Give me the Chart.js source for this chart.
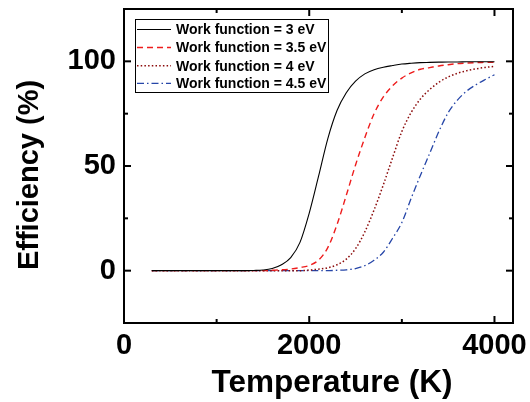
<!DOCTYPE html>
<html>
<head>
<meta charset="utf-8">
<script src="https://cdn.jsdelivr.net/npm/chart.js@4/dist/chart.umd.min.js"></script>
<style>
  html, body { margin: 0; padding: 0; background: #fff; }
  #wrap { width: 530px; height: 402px; position: relative; }
</style>
</head>
<body>
<div id="wrap"><canvas id="c" width="530" height="402"></canvas></div>
<script>
// ---- Data ----
const temperatures = [300, 400, 500, 600, 700, 800, 900, 1000, 1100, 1200, 1300, 1400, 1500, 1600, 1700, 1800, 1900, 2000, 2100, 2200, 2300, 2400, 2500, 2600, 2700, 2800, 2900, 3000, 3100, 3200, 3300, 3400, 3500, 3600, 3700, 3800, 3900, 4000];
const eff3eV   = [0, 0, 0, 0, 0, 0, 0, 0, 0, 0, 0, 0.1, 0.3, 1.0, 2.8, 6.2, 13.5, 27.5, 45, 63, 76.5, 85, 90.5, 94, 96, 97.2, 98, 98.7, 99.1, 99.4, 99.5, 99.6, 99.7, 99.7, 99.8, 99.8, 99.8, 99.8];
const eff35eV  = [0, 0, 0, 0, 0, 0, 0, 0, 0, 0, 0, 0, 0, 0.2, 0.4, 0.8, 1.5, 2.5, 5, 11, 22, 36, 50.5, 63.5, 75, 83, 88.3, 92, 94.5, 96.2, 97, 97.8, 98.4, 98.9, 99.2, 99.4, 99.5, 99.6];
const eff4eV   = [0, 0, 0, 0, 0, 0, 0, 0, 0, 0, 0, 0, 0, 0, 0, 0, 0, 0.3, 0.7, 1.4, 2.8, 5.5, 10.5, 18.5, 29, 41, 54, 66.5, 75.5, 82, 86.5, 90, 92.5, 94.3, 95.5, 96.4, 97.1, 97.6];
const eff45eV  = [0, 0, 0, 0, 0, 0, 0, 0, 0, 0, 0, 0, 0, 0, 0, 0, 0, 0, 0, 0, 0.2, 0.4, 1.0, 2.4, 5, 8.8, 15.5, 23, 34.5, 45.5, 56, 66.5, 75.5, 81.5, 85.8, 88.8, 91.3, 93.6];
const seriesLabels = ["Work function = 3 eV", "Work function = 3.5 eV", "Work function = 4 eV", "Work function = 4.5 eV"];
const xMajorTicks = [0, 2000, 4000];
const xMinorTicks = [1000, 3000];
const yMajorTicks = [0, 50, 100];
const yMinorTicks = [25, 75];
const xRange = [0, 4200];
const yRange = [-25, 125];
const xTitle = "Temperature (K)";
const yTitle = "Efficiency (%)";

// ---- Styles ----
const styles = [
  { color: "#000000", width: 1.1, dash: [] },
  { color: "#ee1c1c", width: 1.4, dash: [6, 4] },
  { color: "#8b0a0a", width: 1.5, dash: [1.5, 2.2] },
  { color: "#2646a8", width: 1.3, dash: [7, 3, 1.5, 3] }
];
const allSeries = [eff3eV, eff35eV, eff4eV, eff45eV];
const FONT = "'Liberation Sans', Arial, Helvetica, sans-serif";

const datasets = allSeries.map((vals, i) => ({
  label: seriesLabels[i],
  data: temperatures.map((t, k) => ({ x: t, y: vals[k] })),
  borderColor: styles[i].color,
  borderWidth: styles[i].width,
  borderDash: styles[i].dash,
  pointRadius: 0,
  fill: false,
  cubicInterpolationMode: 'monotone'
}));

const framePlugin = {
  id: 'frame',
  afterDraw(chart) {
    const { ctx, chartArea: a, scales } = chart;
    const xs = scales.x, ys = scales.y;
    ctx.save();
    ctx.strokeStyle = '#000';
    ctx.lineWidth = 2;
    ctx.strokeRect(a.left, a.top, a.right - a.left, a.bottom - a.top);
    const tick = (x1, y1, x2, y2) => { ctx.beginPath(); ctx.moveTo(x1, y1); ctx.lineTo(x2, y2); ctx.stroke(); };
    xMajorTicks.forEach(v => { const p = xs.getPixelForValue(v); tick(p, a.bottom, p, a.bottom - 7); tick(p, a.top, p, a.top + 7); });
    xMinorTicks.forEach(v => { const p = xs.getPixelForValue(v); tick(p, a.bottom, p, a.bottom - 4); tick(p, a.top, p, a.top + 4); });
    yMajorTicks.forEach(v => { const p = ys.getPixelForValue(v); tick(a.left, p, a.left + 7, p); tick(a.right, p, a.right - 7, p); });
    yMinorTicks.forEach(v => { const p = ys.getPixelForValue(v); tick(a.left, p, a.left + 4, p); tick(a.right, p, a.right - 4, p); });

    // axis titles
    ctx.fillStyle = '#000';
    ctx.textAlign = 'center';
    ctx.textBaseline = 'alphabetic';
    ctx.font = "bold 31.5px " + FONT;
    ctx.fillText(xTitle, 332, 392);
    ctx.save();
    ctx.translate(38, 175);
    ctx.rotate(-Math.PI / 2);
    ctx.font = "bold 29px " + FONT;
    ctx.fillText(yTitle, 0, 0);
    ctx.restore();

    // legend
    const lx = 135.5, ly = 19.5, lw = 193, lh = 73;
    ctx.fillStyle = '#fff';
    ctx.fillRect(lx, ly, lw, lh);
    ctx.lineWidth = 1;
    ctx.strokeStyle = '#000';
    ctx.strokeRect(lx, ly, lw, lh);
    const rows = [29.5, 47.5, 65.8, 83.3];
    ctx.font = "bold 14px " + FONT;
    ctx.textBaseline = 'middle';
    ctx.textAlign = 'left';
    chart.data.datasets.forEach((ds, i) => {
      const y = rows[i];
      ctx.save();
      ctx.strokeStyle = ds.borderColor;
      ctx.lineWidth = ds.borderWidth;
      ctx.setLineDash(ds.borderDash);
      ctx.beginPath(); ctx.moveTo(137, y); ctx.lineTo(171, y); ctx.stroke();
      ctx.restore();
      ctx.fillStyle = '#000';
      ctx.fillText(ds.label, 176, y + 1);
    });
    ctx.restore();
  }
};

new Chart(document.getElementById('c'), {
  type: 'line',
  data: { datasets },
  plugins: [framePlugin],
  options: {
    responsive: false,
    animation: false,
    devicePixelRatio: 1,
    layout: { padding: { left: 0, top: 9, right: 17, bottom: 0 } },
    plugins: { legend: { display: false }, tooltip: { enabled: false } },
    scales: {
      x: {
        type: 'linear',
        min: xRange[0], max: xRange[1],
        grid: { display: false, drawTicks: false },
        border: { display: false },
        afterBuildTicks: s => { s.ticks = xMajorTicks.map(v => ({ value: v })); },
        afterFit: s => { s.height = 79; s.paddingLeft = 0; s.paddingRight = 0; },
        ticks: { color: '#000', font: { family: FONT, size: 29, weight: 'bold' }, padding: 6, maxRotation: 0, callback: v => String(v) },
        title: { display: false }
      },
      y: {
        type: 'linear',
        min: yRange[0], max: yRange[1],
        grid: { display: false, drawTicks: false },
        border: { display: false },
        afterBuildTicks: s => { s.ticks = yMajorTicks.map(v => ({ value: v })); },
        afterFit: s => { s.width = 124; s.paddingTop = 0; s.paddingBottom = 0; },
        ticks: { color: '#000', font: { family: FONT, size: 29, weight: 'bold' }, padding: 8, callback: v => String(v) },
        title: { display: false }
      }
    }
  }
});
</script>
</body>
</html>
